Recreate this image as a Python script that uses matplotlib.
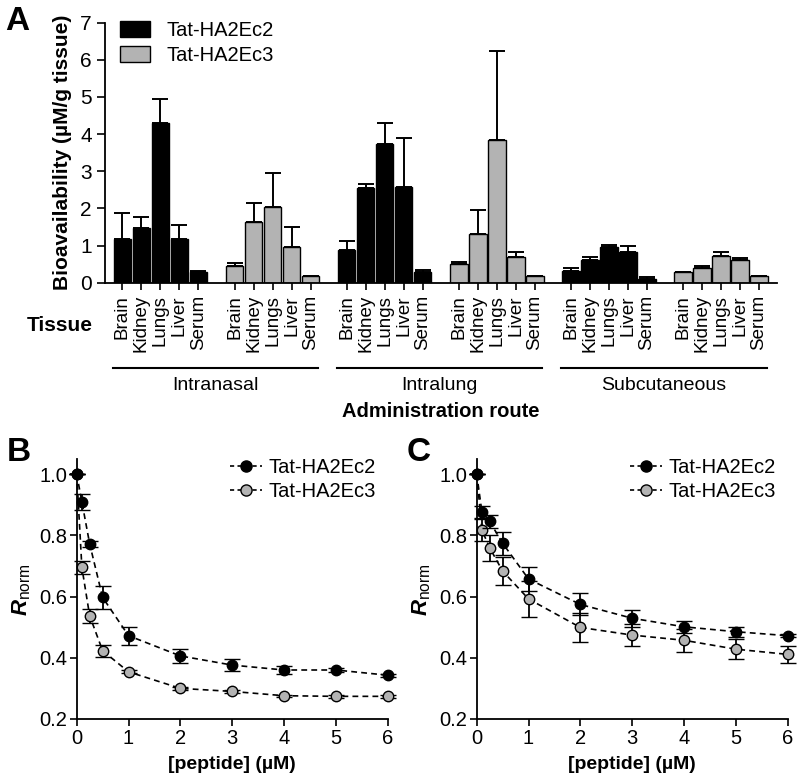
import matplotlib
matplotlib.use("Agg")
import matplotlib.pyplot as plt
import matplotlib.transforms as mtransforms
from matplotlib.patches import Patch
from matplotlib.lines import Line2D
import numpy as np

plt.rcParams['font.family'] = ['Liberation Sans', 'DejaVu Sans']
plt.rcParams['mathtext.fontset'] = 'custom'
plt.rcParams['mathtext.rm'] = 'Liberation Sans'
plt.rcParams['mathtext.it'] = 'Liberation Sans:italic'
plt.rcParams['mathtext.bf'] = 'Liberation Sans:bold'
plt.rcParams['mathtext.bfit'] = 'Liberation Sans:bold:italic'

# panel A data: bioavailability (uM/g tissue), order = tissues, per route
tissues = ['Brain', 'Kidney', 'Lungs', 'Liver', 'Serum']
routes = ['Intranasal', 'Intralung', 'Subcutaneous']
peptides = ['Tat-HA2Ec2', 'Tat-HA2Ec3']

ec2_mean = [[1.17, 1.48, 4.29, 1.17, 0.28],   # intranasal
            [0.88, 2.56, 3.73, 2.58, 0.29],   # intralung
            [0.32, 0.62, 0.95, 0.83, 0.11]]   # subcutaneous
ec2_err = [[0.70, 0.30, 0.66, 0.38, 0.04],
           [0.23, 0.11, 0.58, 1.32, 0.05],
           [0.08, 0.08, 0.06, 0.15, 0.04]]
ec3_mean = [[0.46, 1.63, 2.04, 0.97, 0.17],
            [0.50, 1.32, 3.83, 0.68, 0.19],
            [0.30, 0.40, 0.71, 0.62, 0.18]]
ec3_err = [[0.08, 0.52, 0.91, 0.52, 0.01],
           [0.06, 0.63, 2.41, 0.15, 0.00],
           [0.00, 0.05, 0.12, 0.04, 0.00]]

# panels B, C: normalized response vs peptide concentration
conc = [0, 0.1, 0.25, 0.5, 1, 2, 3, 4, 5, 6]
b_ec2 = [1.0, 0.909, 0.772, 0.597, 0.472, 0.406, 0.376, 0.360, 0.360, 0.343]
b_ec2_err = [0.0, 0.025, 0.01, 0.038, 0.03, 0.023, 0.02, 0.013, 0.005, 0.005]
b_ec3 = [1.0, 0.695, 0.537, 0.423, 0.354, 0.300, 0.290, 0.276, 0.274, 0.274]
b_ec3_err = [0.0, 0.021, 0.022, 0.02, 0.005, 0.004, 0.004, 0.004, 0.004, 0.004]

c_ec2 = [1.0, 0.877, 0.845, 0.774, 0.657, 0.574, 0.529, 0.501, 0.485, 0.472]
c_ec2_err = [0.0, 0.02, 0.021, 0.037, 0.038, 0.036, 0.027, 0.02, 0.016, 0.005]
c_ec3 = [1.0, 0.817, 0.759, 0.683, 0.592, 0.499, 0.474, 0.457, 0.428, 0.411]
c_ec3_err = [0.0, 0.035, 0.043, 0.047, 0.06, 0.046, 0.035, 0.037, 0.033, 0.027]

GRAY = '#b3b3b3'
W, H = 800, 780

fig = plt.figure(figsize=(8, 7.8), dpi=100)

# ---------------- panel A ----------------
axA = fig.add_axes([105 / W, 1 - 282.7 / H, (777 - 105) / W, (282.7 - 22.7) / H])
group_step = 5.9
xs, heights, errs, colors, labels = [], [], [], [], []
for r in range(len(routes)):
    for p, (m, e) in enumerate([(ec2_mean, ec2_err), (ec3_mean, ec3_err)]):
        g = 2 * r + p
        for i in range(len(tissues)):
            xs.append(g * group_step + i)
            heights.append(m[r][i])
            errs.append(e[r][i])
            colors.append('black' if p == 0 else GRAY)
            labels.append(tissues[i])

axA.bar(xs, heights, width=0.92, color=colors, edgecolor='black', linewidth=1.0, zorder=2)
axA.errorbar(xs, heights, yerr=[np.zeros(len(errs)), errs], fmt='none', ecolor='black',
             elinewidth=1.4, capsize=6, capthick=1.4, zorder=1)
axA.set_xlim(-0.92, 34.45)
axA.set_ylim(0, 7)
axA.set_yticks(range(8))
axA.set_xticks(xs)
axA.set_xticklabels(labels, rotation=90, fontsize=13.5)
axA.tick_params(axis='y', labelsize=15, width=1.2, length=6)
axA.tick_params(axis='x', width=1.2, length=5, pad=4)
for s in ['top', 'right']:
    axA.spines[s].set_visible(False)
for s in ['left', 'bottom']:
    axA.spines[s].set_linewidth(1.3)
axA.set_ylabel('Bioavailability (µM/g tissue)', fontsize=15, fontweight='bold', labelpad=6)

hA = [Patch(facecolor='black', edgecolor='black'), Patch(facecolor=GRAY, edgecolor='black')]
axA.legend(hA, peptides, loc='upper left', bbox_to_anchor=(-0.005, 1.075), frameon=False,
           fontsize=14.5, handlelength=1.5, handleheight=0.85, handletextpad=0.8, labelspacing=0.3)

trans = mtransforms.blended_transform_factory(axA.transData, axA.transAxes)
for r, name in enumerate(routes):
    x0 = 2 * r * group_step - 0.5
    x1 = (2 * r + 1) * group_step + 4.4
    axA.plot([x0, x1], [-0.328, -0.328], color='black', lw=1.5, transform=trans, clip_on=False)
    axA.text((x0 + x1) / 2, -0.395, name, transform=trans, ha='center', va='center',
             fontsize=14, family=['Liberation Sans Narrow', 'Liberation Sans'])
axA.text(0.5, -0.495, 'Administration route', transform=axA.transAxes, ha='center', va='center',
         fontsize=14.5, fontweight='bold')
fig.text(60 / W, 1 - 325 / H, 'Tissue', ha='center', va='center', fontsize=15, fontweight='bold')
fig.text(17 / W, 1 - 21 / H, 'A', ha='center', va='center', fontsize=24, fontweight='bold')


# ---------------- panels B, C ----------------
def curve_panel(ax, y2, e2, y3, e3):
    common = dict(fmt='o--', color='black', ms=7.5, mec='black', mew=1.0, lw=1.2,
                  dashes=(3.5, 2.5), elinewidth=1.3, capsize=6, capthick=1.3, clip_on=False)
    ax.errorbar(conc, y3, yerr=e3, mfc=GRAY, zorder=3, **common)
    ax.errorbar(conc, y2, yerr=e2, mfc='black', zorder=4, **common)
    ax.set_xlim(0, 6)
    ax.set_ylim(0.2, 1.048)
    ax.set_yticks([0.2, 0.4, 0.6, 0.8, 1.0])
    ax.set_yticklabels(['0.2', '0.4', '0.6', '0.8', '1.0'])
    ax.set_xticks(range(7))
    ax.tick_params(labelsize=14.5, width=1.2, length=5, pad=2)
    for s in ['top', 'right']:
        ax.spines[s].set_visible(False)
    for s in ['left', 'bottom']:
        ax.spines[s].set_linewidth(1.3)
    ax.set_xlabel('[peptide] (µM)', fontsize=14, fontweight='bold', labelpad=6)
    ax.set_ylabel(r'$\mathbfit{R}_{\mathrm{norm}}$', fontsize=16, labelpad=4)
    handles = [Line2D([], [], color='black', ls='--', dashes=(2.5, 2), lw=1.2, marker='o', ms=8,
                      mfc=fc, mec='black') for fc in ['black', GRAY]]
    ax.legend(handles, peptides, loc='upper right', bbox_to_anchor=(1.0, 1.05), frameon=False,
              fontsize=14.5, handlelength=1.6, handletextpad=0.3, labelspacing=0.25,
              borderaxespad=0.2)


axB = fig.add_axes([76.7 / W, 1 - 719 / H, 311 / W, (719 - 459.3) / H])
curve_panel(axB, b_ec2, b_ec2_err, b_ec3, b_ec3_err)
axC = fig.add_axes([476.7 / W, 1 - 719 / H, 311 / W, (719 - 459.3) / H])
curve_panel(axC, c_ec2, c_ec2_err, c_ec3, c_ec3_err)

fig.text(19 / W, 1 - 452 / H, 'B', ha='center', va='center', fontsize=24, fontweight='bold')
fig.text(419 / W, 1 - 452 / H, 'C', ha='center', va='center', fontsize=24, fontweight='bold')

fig.savefig('out.png', dpi=100)
